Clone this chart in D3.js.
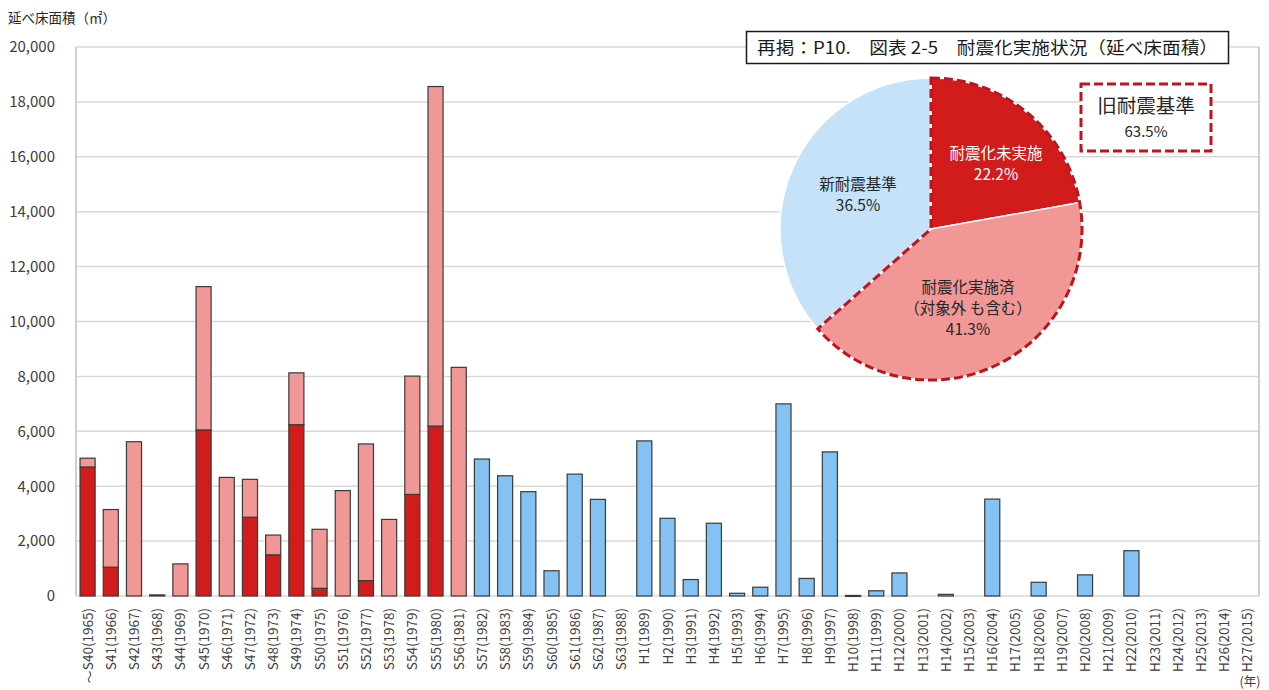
<!DOCTYPE html>
<html lang="ja">
<head>
<meta charset="UTF-8">
<title>耐震化実施状況</title>
<script src="https://cdn.jsdelivr.net/npm/d3@7"></script>
<style>
  body { margin: 0; background: #fff; }
  text { font-family: "Noto Sans CJK JP", "Noto Sans", sans-serif; }
</style>
</head>
<body>
<div id="chart"></div>
<script>
    // 年度（和暦(西暦)）
    var categories = [
        "S40(1965)","S41(1966)","S42(1967)","S43(1968)","S44(1969)","S45(1970)","S46(1971)",
        "S47(1972)","S48(1973)","S49(1974)","S50(1975)","S51(1976)","S52(1977)","S53(1978)",
        "S54(1979)","S55(1980)","S56(1981)","S57(1982)","S58(1983)","S59(1984)","S60(1985)",
        "S61(1986)","S62(1987)","S63(1988)","H1(1989)","H2(1990)","H3(1991)","H4(1992)",
        "H5(1993)","H6(1994)","H7(1995)","H8(1996)","H9(1997)","H10(1998)","H11(1999)",
        "H12(2000)","H13(2001)","H14(2002)","H15(2003)","H16(2004)","H17(2005)","H18(2006)",
        "H19(2007)","H20(2008)","H21(2009)","H22(2010)","H23(2011)","H24(2012)","H25(2013)",
        "H26(2014)","H27(2015)"
    ];

    // 耐震化未実施 (旧耐震)
    var notRetrofitted = [4700,1050,0,40,0,6050,0,2870,1500,6240,280,0,560,0,3700,6190,0,
        0,0,0,0,0,0,0,0,0,0,0,0,0,0,0,0,0,0,0,0,0,0,0,0,0,0,0,0,0,0,0,0,0,0];
    // 耐震化実施済 (旧耐震)
    var retrofitted = [320,2100,5620,0,1170,5220,4320,1380,720,1890,2150,3840,4980,2790,4310,12370,8330,
        0,0,0,0,0,0,0,0,0,0,0,0,0,0,0,0,0,0,0,0,0,0,0,0,0,0,0,0,0,0,0,0,0,0];
    // 新耐震基準
    var newStandard = [0,0,0,0,0,0,0,0,0,0,0,0,0,0,0,0,0,
        4990,4380,3800,920,4440,3520,0,5650,2830,600,2650,100,320,7000,640,5250,20,190,
        840,0,60,0,3530,0,500,0,770,0,1650,0,0,0,0,0];

    var yTicks = [0,2000,4000,6000,8000,10000,12000,14000,16000,18000,20000];

    // 円グラフ (%)
    var pieLabels = [["耐震化未実施"], ["耐震化実施済", "（対象外 も含む）"], ["新耐震基準"]];
    var pieValues = [22.2, 41.3, 36.5];
    var oldStdLabel = "旧耐震基準";
    var oldStdValue = 63.5;

    var W = 1269, H = 690;
    var pLeft = 76, pRight = 1259, pTop = 47, pBottom = 596;

    var svg = d3.select('#chart').append('svg')
            .attr('width', W)
            .attr('height', H);

    var x = d3.scaleBand().domain(categories).range([pLeft, pRight])
            .paddingInner(0.35).paddingOuter(0.175);
    var y = d3.scaleLinear().domain([0, 20000]).range([pBottom, pTop]);

    // gridlines
    svg.append('g').selectAll('line')
            .data(yTicks)
            .enter().append('line')
            .attr('x1', pLeft).attr('x2', pRight)
            .attr('y1', function(d){ return y(d); })
            .attr('y2', function(d){ return y(d); })
            .attr('stroke', '#d9d9d9')
            .attr('stroke-width', 1.5);

    svg.append('line')
            .attr('x1', pLeft).attr('x2', pLeft).attr('y1', pTop).attr('y2', pBottom)
            .attr('stroke', '#bfbfbf').attr('stroke-width', 1.5);
    svg.append('line')
            .attr('x1', pRight).attr('x2', pRight).attr('y1', pTop).attr('y2', pBottom)
            .attr('stroke', '#bfbfbf').attr('stroke-width', 1.5);

    // y axis
    var yAxis = svg.append('g')
            .attr('transform', 'translate(' + (pLeft - 21) + ',0)')
            .call(d3.axisLeft(y).tickValues(yTicks).tickFormat(d3.format(',')).tickSize(0).tickPadding(0));
    yAxis.select('.domain').remove();
    yAxis.selectAll('text')
            .attr('font-size', 15)
            .attr('fill', '#404040')
            .style('font-family', '"Noto Sans CJK JP", sans-serif');

    svg.append('text')
            .attr('x', 8).attr('y', 23)
            .attr('font-size', 13.5)
            .attr('fill', '#262626')
            .text('延べ床面積（㎡）');

    // stacked bars
    var rows = categories.map(function(c, i){
        return { cat: c, a: notRetrofitted[i], b: retrofitted[i], c: newStandard[i] };
    });
    var stack = d3.stack().keys(['a', 'b', 'c'])(rows);
    var colors = { a: '#d21c1c', b: '#f19796', c: '#83c2f3' };

    stack.forEach(function(layer){
        svg.append('g').selectAll('rect')
                .data(layer.filter(function(d){ return d[1] - d[0] > 0; }))
                .enter().append('rect')
                .attr('x', function(d){ return x(d.data.cat); })
                .attr('width', x.bandwidth())
                .attr('y', function(d){ return y(d[1]); })
                .attr('height', function(d){ return Math.max(1, y(d[0]) - y(d[1])); })
                .attr('fill', colors[layer.key])
                .attr('stroke', '#3a3a3a')
                .attr('stroke-width', 1.2);
    });

    // x labels
    svg.append('g').selectAll('text')
            .data(categories)
            .enter().append('text')
            .attr('transform', function(d){
                return 'translate(' + (x(d) + x.bandwidth() / 2 + 5) + ',' + 608 + ') rotate(-90)';
            })
            .attr('text-anchor', 'end')
            .attr('font-size', 13.5)
            .attr('fill', '#404040')
            .text(function(d){ return d; });

    svg.append('text')
            .attr('transform', 'translate(' + (x(categories[0]) + x.bandwidth() / 2 - 3) + ',' + 677 + ') rotate(90)')
            .attr('text-anchor', 'middle')
            .attr('font-size', 13)
            .attr('fill', '#404040')
            .text('～');

    svg.append('text')
            .attr('x', 1250).attr('y', 686)
            .attr('text-anchor', 'middle')
            .attr('font-size', 12.5)
            .attr('fill', '#404040')
            .text('(年)');

    // title box
    svg.append('rect')
            .attr('x', 746.5).attr('y', 31.5).attr('width', 482).attr('height', 32)
            .attr('fill', '#fff').attr('stroke', '#1a1a1a').attr('stroke-width', 1.5);
    svg.append('text')
            .attr('x', 757).attr('y', 54)
            .attr('font-size', 17)
            .attr('fill', '#1a1a1a')
            .attr('textLength', 461)
            .attr('lengthAdjust', 'spacingAndGlyphs')
            .text('再掲：P10.　図表 2-5　耐震化実施状況（延べ床面積）');

    // pie
    var cx = 931, cy = 229, r = 151;
    var pieColors = ['#d21c1c', '#f19796', '#c5e2f8'];
    var arcs = d3.pie().sort(null)(pieValues);
    var arc = d3.arc().innerRadius(0).outerRadius(r);
    var g = svg.append('g').attr('transform', 'translate(' + cx + ',' + cy + ')');
    g.selectAll('path')
            .data(arcs)
            .enter().append('path')
            .attr('d', arc)
            .attr('fill', function(d, i){ return pieColors[i]; })
            .attr('stroke', '#fff')
            .attr('stroke-width', 1.5);

    // 旧耐震基準 dashed outline
    var oldEnd = arcs[1].endAngle;
    g.append('path')
            .attr('d', d3.arc().innerRadius(0).outerRadius(r)({ startAngle: 0, endAngle: oldEnd }))
            .attr('fill', 'none')
            .attr('stroke', '#c0141c')
            .attr('stroke-width', 3)
            .attr('stroke-dasharray', '9,4');

    var labelPos = [[65, -70], [37, 64], [-73, -39]];
    var labelColors = ['#fff', '#262626', '#262626'];
    arcs.forEach(function(d, i){
        var lines = pieLabels[i].concat([pieValues[i].toFixed(1) + '%']);
        var t = g.append('text')
                .attr('text-anchor', 'middle')
                .attr('font-size', 15.5)
                .attr('fill', labelColors[i]);
        lines.forEach(function(s, k){
            t.append('tspan')
                    .attr('x', labelPos[i][0])
                    .attr('y', labelPos[i][1] + k * 21)
                    .text(s);
        });
    });

    // 旧耐震基準 legend box
    svg.append('rect')
            .attr('x', 1081).attr('y', 84).attr('width', 130).attr('height', 67)
            .attr('fill', '#fff')
            .attr('stroke', '#c0141c').attr('stroke-width', 3).attr('stroke-dasharray', '9,4');
    svg.append('text')
            .attr('x', 1146).attr('y', 113)
            .attr('text-anchor', 'middle')
            .attr('font-size', 19.5)
            .attr('fill', '#262626')
            .text(oldStdLabel);
    svg.append('text')
            .attr('x', 1146).attr('y', 137)
            .attr('text-anchor', 'middle')
            .attr('font-size', 15)
            .attr('fill', '#262626')
            .text(oldStdValue.toFixed(1) + '%');
</script>
</body>
</html>
